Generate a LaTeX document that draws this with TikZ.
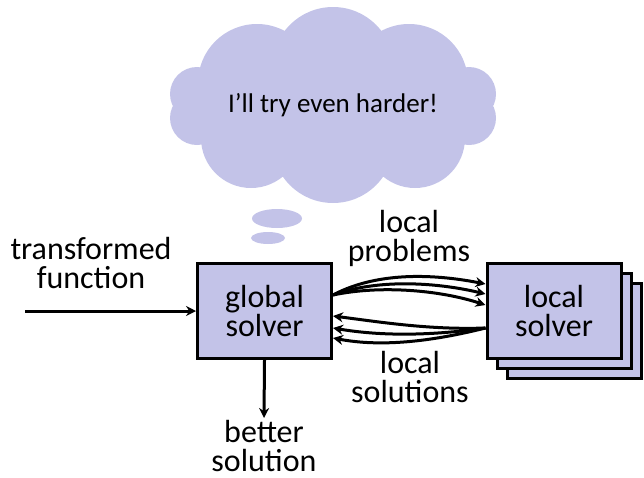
\documentclass[tikz,border=0pt]{standalone}
\usepackage{fontspec}
\setmainfont{Carlito}
\usetikzlibrary{arrows.meta,calc,shapes.geometric}
\definecolor{lav}{RGB}{195,195,232}
\begin{document}
\begin{tikzpicture}[x=1pt,y=-1pt,
  solver/.style={draw=black, line width=3pt, fill=lav, minimum width=134pt,
    minimum height=95pt, inner sep=0pt, align=center,
    font=\fontsize{32}{29}\selectfont},
  lbl/.style={align=center, inner sep=0pt, font=\fontsize{32}{29}\selectfont},
  arr/.style={line width=3pt, -{Stealth[length=10pt,width=10pt]}},
  puff/.style={fill=lav, draw=none, ellipse, inner sep=0pt}]
\useasboundingbox (0,0) rectangle (644,477);

% thought cloud built from overlapping lobes
\fill[lav] (333,68) circle[radius=61pt]
           (333,142) circle[radius=61pt]
           (257,83) circle[radius=59pt]
           (409,83) circle[radius=59pt]
           (251,138) circle[radius=50pt]
           (415,138) circle[radius=50pt]
           (197,94) circle[radius=27pt]
           (197,118) circle[radius=27pt]
           (469,94) circle[radius=27pt]
           (469,118) circle[radius=27pt];
\node[inner sep=0pt, font=\fontsize{27}{30}\selectfont] (thought) at (333,105) {I’ll try even harder!};
\node[puff, minimum width=50pt, minimum height=19pt] (bubbleA) at (277,218.5) {};
\node[puff, minimum width=34pt, minimum height=12pt] (bubbleB) at (268,238) {};

% solvers
\node[solver] (g) at (264.5,311) {global\\solver};
\node[solver] (l3) at (574,331) {};
\node[solver] (l2) at (564,321) {};
\node[solver] (l) at (554,311) {local\\solver};

% input and output
\coordinate (in) at (25,311);
\coordinate (out) at (264,418);
\draw[arr] (in) -- (g.west);
\draw[arr] (g.south) -- (out);
\node[lbl] (tf) at (91,263) {transformed\\function};
\node[lbl] (bs) at (264,446) {better\\solution};

% local problems sent out
\draw[arr] ($(g.east)+(0,-16)$) .. controls +(47,-25) and +(-46,-9) .. ($(l.west)+(0,-27)$);
\draw[arr] ($(g.east)+(0,-16)$) .. controls +(47,-17) and +(-46,-11) .. ($(l.west)+(0,-17)$);
\draw[arr] ($(g.east)+(0,-16)$) .. controls +(47,-10) and +(-46,-15) .. ($(l.west)+(0,-6)$);
% local solutions returned
\draw[arr] ($(l.west)+(0,17)$) .. controls +(-56,2) and +(47,6) .. ($(g.east)+(0,5)$);
\draw[arr] ($(l.west)+(0,17)$) .. controls +(-56,8) and +(47,8) .. ($(g.east)+(0,17)$);
\draw[arr] ($(l.west)+(0,17)$) .. controls +(-56,14) and +(47,9) .. ($(g.east)+(0,27)$);

\node[lbl] (lp) at (409,238) {local\\problems};
\node[lbl] (ls) at (410,377) {local\\solutions};
\end{tikzpicture}
\end{document}
